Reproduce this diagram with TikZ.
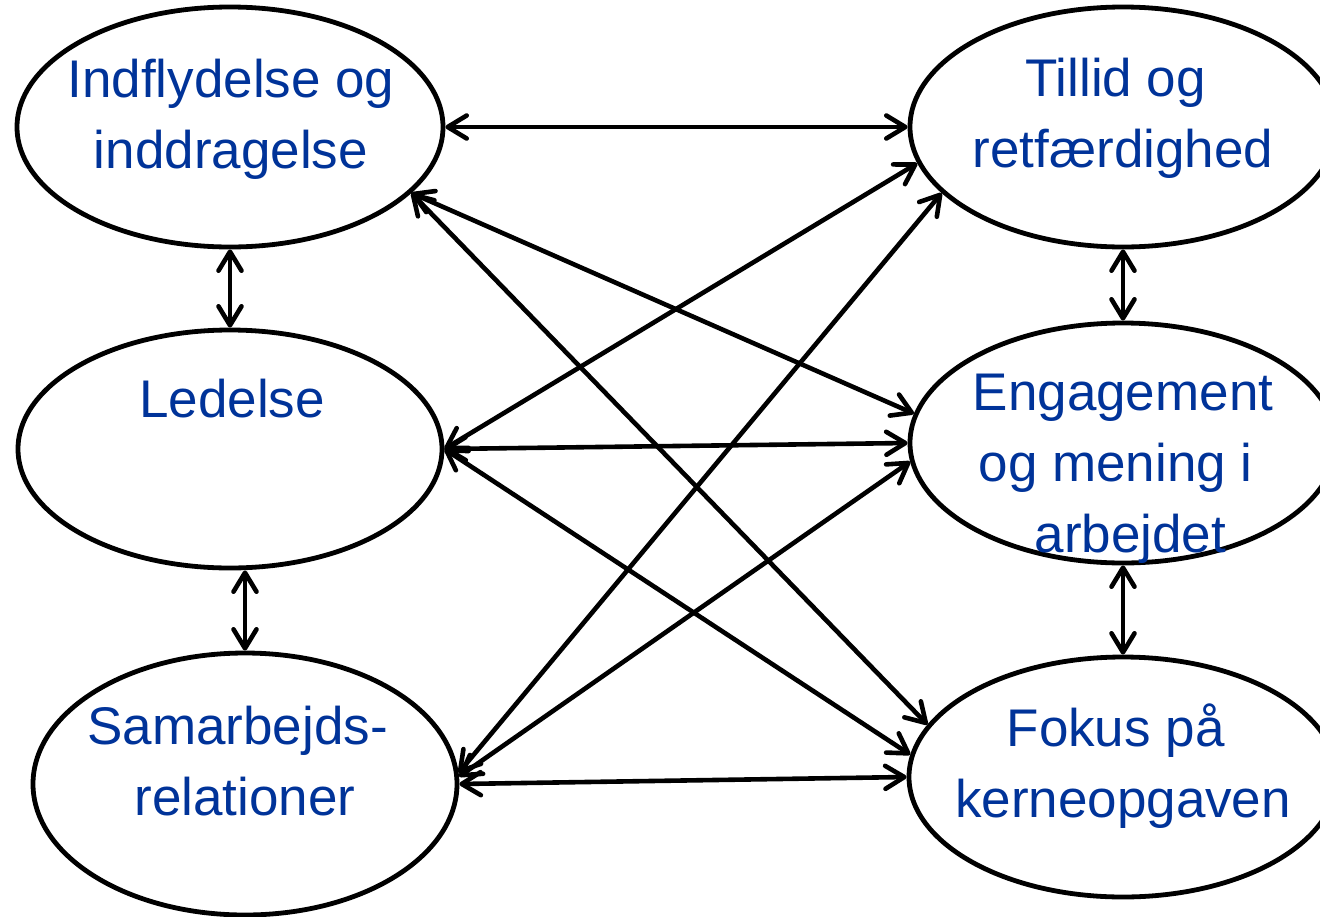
\documentclass[tikz,border=0pt]{standalone}
\usepackage{fontspec}
\setmainfont{Liberation Sans}
\usetikzlibrary{arrows.meta,shapes.geometric}
\definecolor{textblue}{RGB}{0,51,153}
% centred lines whose baseline is the baseline of the first line
\newcommand\stacklines[1]{\begin{tabular}[t]{@{}c@{}}#1\end{tabular}}
\newcommand\gap{\hspace*{0.278em}}

\begin{document}
\begin{tikzpicture}[x=1pt,y=-1pt,
  >={Straight Barb[length=19pt,width=23pt,round]},
  bubble/.style={draw=black, line width=4.8pt, ellipse, inner sep=0pt},
  nodetext/.style={text=textblue, font=\fontsize{53}{71}\selectfont,
                   inner sep=0pt, anchor=base},
  link/.style={line width=4.6pt, <->}]

\useasboundingbox (0,0) rectangle (1320,916);
\fill[white] (0,0) rectangle (1320,916);
\clip (0,0) rectangle (1320,916);

% factor ellipses
\node[bubble, minimum width=426pt, minimum height=240pt] (indfl)   at (230,127) {};
\node[bubble, minimum width=426pt, minimum height=240pt] (tillid)  at (1123,127) {};
\node[bubble, minimum width=424pt, minimum height=238pt] (ledelse) at (230,449) {};
\node[bubble, minimum width=426pt, minimum height=240pt] (engag)   at (1123,443) {};
\node[bubble, minimum width=424pt, minimum height=262pt] (samar)   at (245,784) {};
\node[bubble, minimum width=428pt, minimum height=240pt] (fokus)   at (1123,777) {};

% labels
\node[nodetext] (indfl-t)   at (231,97)   {\stacklines{Indflydelse og\\inddragelse}};
\node[nodetext] (tillid-t)  at (1123,96)  {\stacklines{Tillid og\gap\\retfærdighed}};
\node[nodetext] (ledelse-t) at (232,417)  {\stacklines{Ledelse}};
\node[nodetext] (engag-t)   at (1123,410) {\stacklines{Engagement\\og mening i\gap\\\gap arbejdet}};
\node[nodetext] (samar-t)   at (245,744)  {\stacklines{Samarbejds-\gap\\relationer}};
\node[nodetext] (fokus-t)   at (1123,746) {\stacklines{Fokus på\gap\\kerneopgaven}};

% mutual influences
\draw[link] (indfl.east) -- (tillid.west);
\draw[link] (indfl.south) -- (ledelse.north);
\draw[link] (ledelse.south -| samar.north) -- (samar.north);
\draw[link] (tillid.south) -- (engag.north);
\draw[link] (engag.south) -- (fokus.north);
\draw[link] (indfl.-20) -- (engag.172);
\draw[link] (indfl.-20) -- (fokus.165);
\draw[link] (ledelse.east) -- (tillid.190);
\draw[link] (ledelse.east) -- (engag.west);
\draw[link] (ledelse.east) -- (fokus.174);
\draw[link] (samar.3) -- (tillid.200);
\draw[link] (samar.2) -- (engag.185);
\draw[link] (samar.east) -- (fokus.west);
\end{tikzpicture}
\end{document}
